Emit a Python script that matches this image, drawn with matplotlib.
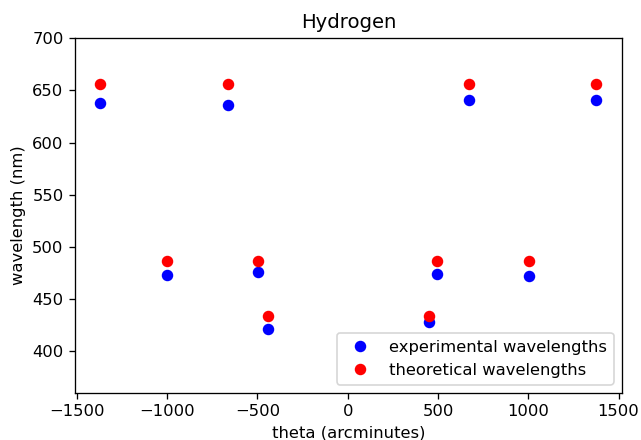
import numpy as np
import matplotlib
matplotlib.use('Agg')
import matplotlib.pyplot as plt

# angles (arcminutes) et longueurs d'onde (nm)
theta = [-1370, -1003, -664, -498, -441, 449, 496, 673, 1003, 1377]
exp_wl = [638.1, 473.1, 635.6, 476.0, 421.2, 427.5, 473.7, 640.4, 472.1, 640.9]
theo_wl = [656.3, 486.1, 656.3, 486.1, 434.0, 434.0, 486.1, 656.3, 486.1, 656.3]

dpi = 118
fig = plt.figure(figsize=(641 / dpi, 440 / dpi), dpi=dpi)
ax = fig.add_axes([0.117, 0.1075, 0.853, 0.8055])
ax.plot(theta, exp_wl, 'bo', label='experimental wavelengths')
ax.plot(theta, theo_wl, 'ro', label='theoretical wavelengths')
ax.set_ylim(360, 700)
ax.set_xlim(-1510, 1518)
ax.set_xticks([-1500, -1000, -500, 0, 500, 1000, 1500])
ax.set_title('Hydrogen')
ax.set_xlabel('theta (arcminutes)')
ax.set_ylabel('wavelength (nm)')
ax.legend(loc='lower right')
fig.savefig('out.png', dpi=dpi)
